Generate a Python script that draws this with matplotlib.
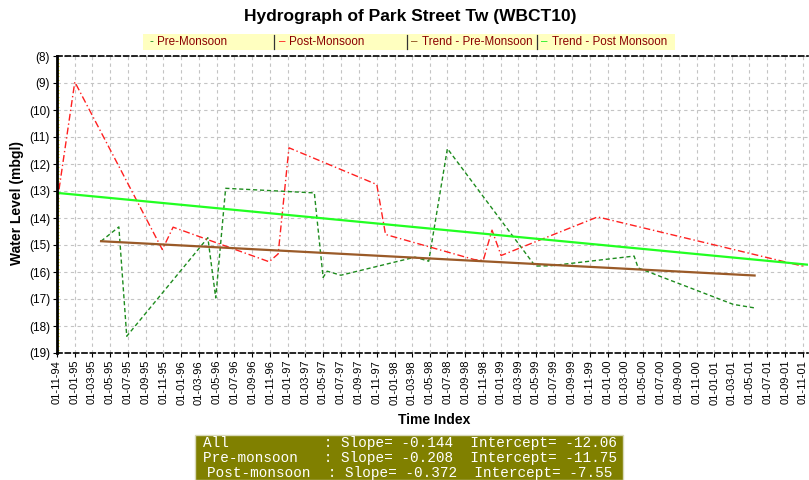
import pandas as pd
import matplotlib
matplotlib.use("Agg")
import matplotlib.pyplot as plt
from matplotlib.patches import Rectangle
from matplotlib.lines import Line2D
from matplotlib.ticker import MultipleLocator

plt.rcParams['font.family'] = ['Liberation Sans', 'DejaVu Sans']

# pre-monsoon readings (water level below ground, m)
pre_dates = ["1995-04-01", "1995-06-01", "1995-06-28", "1996-04-01", "1996-04-28",
             "1996-06-01", "1997-04-01", "1997-05-01", "1997-05-15", "1997-07-01",
             "1998-03-12", "1998-04-28", "1998-07-01", "1999-04-28", "1999-06-18",
             "2000-04-01", "2000-04-15", "2001-03-07", "2001-05-19"]
pre_levels = [14.86, 14.33, 18.38, 14.73, 16.96,
              12.90, 13.07, 16.20, 15.97, 16.12,
              15.45, 15.60, 11.43, 15.78, 15.77,
              15.41, 15.85, 17.20, 17.33]

# post-monsoon readings
post_dates = ["1994-11-01", "1995-01-01", "1995-10-28", "1995-12-04", "1996-10-28",
              "1996-11-28", "1997-01-04", "1997-11-01", "1997-12-01", "1998-10-01",
              "1998-11-01", "1998-12-01", "1999-01-01", "1999-11-28", "2001-11-07"]
post_levels = [13.45, 8.96, 15.17, 14.34, 15.62,
               15.33, 11.40, 12.76, 14.61, 15.54,
               15.57, 14.45, 15.39, 13.96, 15.80]

# trend lines (end points)
trend_pre_dates = ["1995-04-01", "2001-05-19"]
trend_pre_levels = [14.86, 16.13]
trend_post_dates = ["1994-11-01", "2001-11-18"]
trend_post_levels = [13.07, 15.73]

tick_dates = pd.date_range("1994-11-01", "2001-11-01", freq="2MS")
y_ticks = list(range(8, 20))
y_labels = ["(%d)" % v for v in y_ticks]

legend_names = ["Pre-Monsoon", "Post-Monsoon", "Trend - Pre-Monsoon", "Trend - Post Monsoon"]
legend_colors = ["#1e8c1e", "#ff2020", "#8a4a1a", "#22ee22"]

stat_names = ["All", "Pre-monsoon", "Post-monsoon"]
stat_slopes = ["-0.144", "-0.208", "-0.372"]
stat_intercepts = ["-12.06", "-11.75", "-7.55"]

W, H = 809, 480
fig = plt.figure(figsize=(W / 100, H / 100), dpi=100)
fig.patch.set_facecolor("white")

ax = fig.add_axes([57 / W, 1 - 353 / H, 751 / W, 297 / H])

ax.plot(pd.to_datetime(pre_dates), pre_levels, color="#1e8c1e", lw=1, ls=(0, (3, 2)))
ax.plot(pd.to_datetime(post_dates), post_levels, color="#ff2020", lw=1, ls=(0, (5, 2, 1, 2)))
ax.plot(pd.to_datetime(trend_pre_dates), trend_pre_levels, color="#9a5a28", lw=1.6)
ax.plot(pd.to_datetime(trend_post_dates), trend_post_levels, color="#22ff22", lw=1.6)

ax.set_xlim(pd.Timestamp("1994-11-01"), pd.Timestamp("2001-11-18"))
ax.set_ylim(19, 8)
ax.set_xticks(tick_dates)
ax.set_xticklabels([d.strftime("%d-%m-%y") for d in tick_dates], rotation=90, fontsize=8)
ax.set_yticks(y_ticks)
ax.set_yticklabels(y_labels, fontsize=8.5)
ax.yaxis.set_minor_locator(MultipleLocator(0.125))
ax.tick_params(axis="both", which="major", length=3, width=0.8, pad=2)
ax.tick_params(axis="y", which="minor", length=1.5, width=0.8, color="#e6e600", direction="in")

ax.set_axisbelow(True)
ax.grid(color="#c4c4c4", ls=(0, (3, 3)), lw=0.8)

ax.spines["right"].set_visible(False)
ax.spines["left"].set_linewidth(2)
for s in ["top", "bottom"]:
    ax.spines[s].set_linestyle((0, (3, 2)))
    ax.spines[s].set_linewidth(1.2)

# title and axis labels
fig.text(410 / W, 1 - 17 / H, "Hydrograph of Park Street Tw (WBCT10)", ha="center", va="center",
         fontsize=12.5, fontweight="bold")
fig.text(434 / W, 1 - 420 / H, "Time Index", ha="center", va="center", fontsize=10, fontweight="bold")
fig.text(17.5 / W, 1 - 203 / H, "Water Level (mbgl)", ha="center", va="center", rotation=90,
         fontsize=10, fontweight="bold")

# legend strip
fig.patches.append(Rectangle((142.7 / W, 1 - 50 / H), (675 - 142.7) / W, 15.7 / H,
                             transform=fig.transFigure, facecolor="#ffffc0", edgecolor="none"))
mark_x = [149, 279, 411, 541]
text_x = [157.3, 289.3, 422.5, 552.5]
sep_x = [274.3, 406.5, 536.5]
for sx in sep_x:
    fig.lines.append(Line2D([sx / W, sx / W], [1 - 49 / H, 1 - 35 / H], transform=fig.transFigure,
                            color="#333333", lw=0.9))
for i, name in enumerate(legend_names):
    mark = "-" if i == 0 else "–"
    fig.text(mark_x[i] / W, 1 - 42 / H, mark, color=legend_colors[i], fontsize=8.4, va="center")
    fig.text(text_x[i] / W, 1 - 42 / H, name, color="#8b0000", fontsize=8.4, va="center")

# statistics box
fig.patches.append(Rectangle((195 / W, 0), (623 - 195) / W, 45 / H, transform=fig.transFigure,
                             facecolor="#808000", edgecolor="#d8d8b8", lw=1))
for i in range(len(stat_names)):
    line = f"{stat_names[i]:<14}: Slope= {stat_slopes[i]}  Intercept= {stat_intercepts[i]}"
    fig.text(410 / W, 1 - (443.3 + i * 14.7) / H, line, ha="center", va="center", color="white",
             fontsize=10.4, family="Liberation Mono")

fig.savefig("out.png", dpi=100)
